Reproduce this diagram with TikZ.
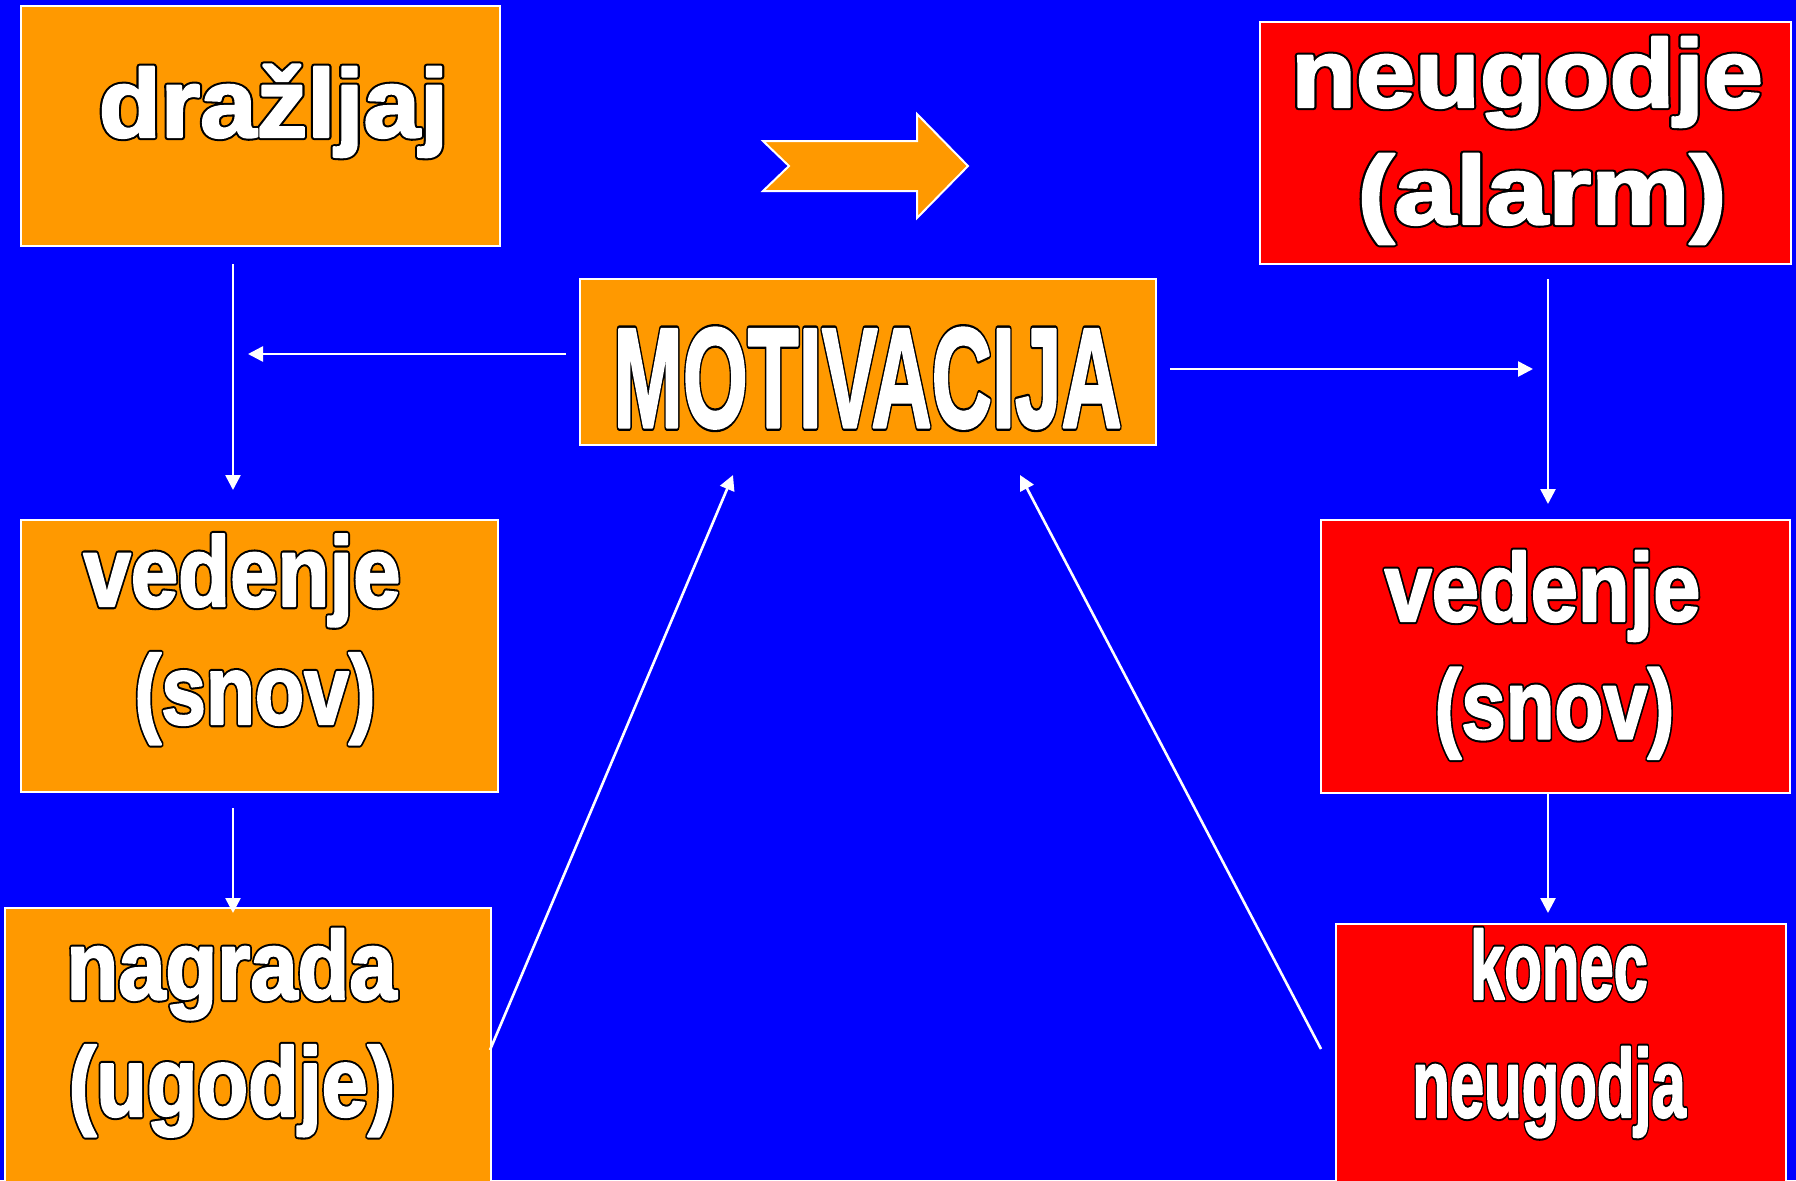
\documentclass[tikz,border=0pt]{standalone}
\usepackage{fontspec}
\setmainfont{Liberation Sans}
\newfontfamily\overfont[FakeBold=2.4]{Liberation Sans Bold}
\newfontfamily\underfont[FakeBold=6.6]{Liberation Sans Bold}
\newfontfamily\overfontM[FakeBold=2.1]{Liberation Sans Bold}
\newfontfamily\underfontM[FakeBold=5.4]{Liberation Sans Bold}
\usepackage{graphicx}
\usetikzlibrary{arrows.meta,fit}
\definecolor{bgblue}{HTML}{0000FF}
\definecolor{boxorange}{HTML}{FF9900}
\definecolor{boxred}{HTML}{FF0000}
% white letters with a black outline: a black, heavily emboldened layer under a white one
\newcommand\wtext[3]{\fontsize{#1}{#1}\selectfont\scalebox{#2}[1]{\special{pdf:literal direct 1 j}\makebox[0pt][l]{\color{black}\underfont #3}\overfont #3}}
\newcommand\wtextM[3]{\fontsize{#1}{#1}\selectfont\scalebox{#2}[1]{\special{pdf:literal direct 1 j}\makebox[0pt][l]{\color{black}\underfontM #3}\overfontM #3}}
\tikzset{
  boxo/.style={draw=white, line width=1pt, fill=boxorange, inner sep=0pt},
  boxr/.style={draw=white, line width=1pt, fill=boxred, inner sep=0pt},
  txt/.style={text=white, inner sep=0pt, anchor=base},
  conn/.style={draw=white, line width=1.3pt, -{Triangle[width=7.5pt,length=7.5pt]}},
  blockarrow/.style={fill=boxorange, draw=white, line width=1pt, line join=miter}
}
\begin{document}
\begin{tikzpicture}[x=0.5pt,y=-0.5pt]
\useasboundingbox (0,0) rectangle (1796,1180);
\clip (0,0) rectangle (1796,1180);
\fill[bgblue] (0,0) rectangle (1796,1180);

% boxes
\node[boxo, fit={(21,6) (500,246)}] (draz) {};
\node[boxr, fit={(1260,22) (1791,264)}] (neug) {};
\node[boxo, fit={(580,279) (1156,445)}] (motiv) {};
\node[boxo, fit={(21,520) (498,792)}] (vedL) {};
\node[boxo, fit={(5,908) (491,1190)}] (nagr) {};
\node[boxr, fit={(1321,520) (1790,793)}] (vedR) {};
\node[boxr, fit={(1336,924) (1786,1190)}] (konec) {};

% block arrow
\path[blockarrow] (763,141) -- (917,141) -- (917,114) -- (968,166) -- (917,218) -- (917,191) -- (763,191) -- (789,166) -- cycle;

% texts
\node[txt] (tdraz) at (273.5,137) {\wtext{48.5pt}{1.045}{dražljaj}};
\node[txt] (tneug1) at (1527,107) {\wtext{48.5pt}{1.094}{neugodje}};
\node[txt] (tneug2) at (1542,224) {\wtext{48.5pt}{1.14}{(alarm)}};
\node[txt] (tmotiv) at (867.5,427) {\wtextM{71pt}{0.5875}{MOTIVACIJA}};
\node[txt] (tvedL1) at (242,606) {\wtext{49.5pt}{0.86}{vedenje}};
\node[txt] (tvedL2) at (255,724) {\wtext{49pt}{0.82}{(snov)}};
\node[txt] (tnagr1) at (231.5,999) {\wtext{48.5pt}{0.875}{nagrada}};
\node[txt] (tnagr2) at (232,1116) {\wtext{49pt}{0.845}{(ugodje)}};
\node[txt] (tvedR1) at (1542.5,621) {\wtext{48.5pt}{0.874}{vedenje}};
\node[txt] (tvedR2) at (1554.5,738.5) {\wtext{49pt}{0.815}{(snov)}};
\node[txt] (tkon1) at (1559,999) {\wtext{48.5pt}{0.634}{konec}};
\node[txt] (tkon2) at (1549,1117) {\wtext{48.5pt}{0.634}{neugodja}};

% connector end points
\coordinate (c1a) at (233,264);  \coordinate (c1b) at (233,490);
\coordinate (c2a) at (566,354);  \coordinate (c2b) at (248,354);
\coordinate (c3a) at (233,808);  \coordinate (c3b) at (233,913);
\coordinate (c4a) at (1170,369); \coordinate (c4b) at (1533,369);
\coordinate (c5a) at (1548,279); \coordinate (c5b) at (1548,504);
\coordinate (c6a) at (1548,793); \coordinate (c6b) at (1548,913);
\coordinate (c7a) at (490,1050); \coordinate (c7b) at (733,475);
\coordinate (c8a) at (1321,1049); \coordinate (c8b) at (1020,475);

\draw[conn] (c1a) -- (c1b);
\draw[conn] (c2a) -- (c2b);
\draw[conn] (c3a) -- (c3b);
\draw[conn] (c4a) -- (c4b);
\draw[conn] (c5a) -- (c5b);
\draw[conn] (c6a) -- (c6b);
\draw[conn] (c7a) -- (c7b);
\draw[conn] (c8a) -- (c8b);
\end{tikzpicture}
\end{document}
